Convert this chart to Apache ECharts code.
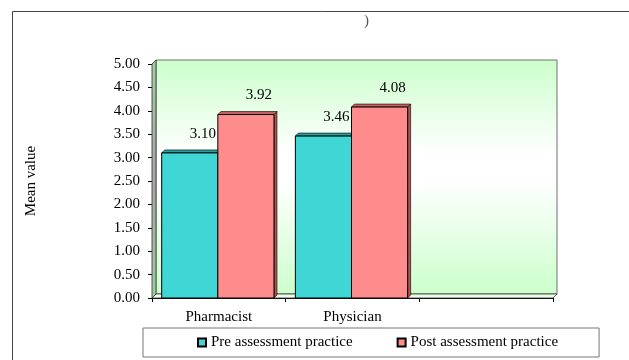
<!DOCTYPE html>
<html>
<head>
<meta charset="utf-8">
<script src="https://cdn.jsdelivr.net/npm/echarts@6/dist/echarts.min.js"></script>
<style>
  html, body { margin: 0; padding: 0; background: #fff; }
  #chart { width: 629px; height: 360px; }
</style>
</head>
<body>
<div id="chart"></div>
<script>
// Chart data
const categories = ['Pharmacist', 'Physician', ''];
const seriesNames = ['Pre assessment practice', 'Post assessment practice'];
const preValues = [3.10, 3.46];
const postValues = [3.92, 4.08];
const yMin = 0, yMax = 5, yStep = 0.5;

const FONT = 'Liberation Serif';
const DEPTH = 3;       // bar extrusion in px
const WALL_DEPTH = 4;  // wall offset in px

const palette = {
  pre:  { front: '#40d6d6', top: '#2a9e9e', side: '#2c8f8f' },
  post: { front: '#ff8c8c', top: '#c86060', side: '#b25252' }
};

// Draws one extruded bar (front face, top face, right side) plus its value label
function makeBarRenderer(side, col) {
  return function (params, api) {
    const idx = api.value(0);
    const v = api.value(1);
    const base = api.coord([idx, 0]);
    const top = api.coord([idx, v]);
    const band = api.size([1, 0])[0];
    const w = band * 0.42;
    const cx = base[0] - 1;
    const x0 = side === 0 ? cx - w : cx;
    const x1 = x0 + w;
    const y0 = top[1], y1 = base[1];
    const d = DEPTH;
    return {
      type: 'group',
      children: [
        { type: 'polygon', shape: { points: [[x1, y1], [x1, y0], [x1 + d, y0 - d], [x1 + d, y1 - d]] },
          style: { fill: col.side, stroke: '#000', lineWidth: 0.6 } },
        { type: 'polygon', shape: { points: [[x0, y0], [x0 + d, y0 - d], [x1 + d, y0 - d], [x1, y0]] },
          style: { fill: col.top, stroke: '#000', lineWidth: 0.6 } },
        { type: 'rect', shape: { x: x0, y: y0, width: w, height: y1 - y0 },
          style: { fill: col.front, stroke: '#000', lineWidth: 1 } },
        { type: 'text', x: (x0 + x1) / 2 + 13, y: y0 - 19,
          style: { text: v.toFixed(2), fill: '#000', font: '15px "' + FONT + '"',
                   textAlign: 'center', textVerticalAlign: 'middle' } }
      ]
    };
  };
}

// Back wall, left side wall and floor of the plotting box
function renderWalls(params, api) {
  const cs = params.coordSys;
  const x = cs.x, y = cs.y, w = cs.width, h = cs.height, d = WALL_DEPTH;
  const wallGrad = new echarts.graphic.LinearGradient(0, 0, 0, 1, [
    { offset: 0, color: '#ccffcc' },
    { offset: 0.4, color: '#ffffff' },
    { offset: 0.52, color: '#ffffff' },
    { offset: 1, color: '#ccffcc' }
  ]);
  const sideGrad = new echarts.graphic.LinearGradient(0, 0, 0, 1, [
    { offset: 0, color: '#9fcf9f' },
    { offset: 0.45, color: '#a8a8a8' },
    { offset: 0.55, color: '#a8a8a8' },
    { offset: 1, color: '#9fcf9f' }
  ]);
  return {
    type: 'group',
    silent: true,
    children: [
      { type: 'rect', shape: { x: x + d, y: y - d, width: w, height: h },
        style: { fill: wallGrad, stroke: '#6e6e6e', lineWidth: 1 } },
      { type: 'polygon', shape: { points: [[x, y + h], [x, y], [x + d, y - d], [x + d, y + h - d]] },
        style: { fill: sideGrad, stroke: '#333', lineWidth: 0.8 } },
      { type: 'polygon', shape: { points: [[x, y + h], [x + d, y + h - d], [x + w + d, y + h - d], [x + w, y + h]] },
        style: { fill: '#eefcee', stroke: '#333', lineWidth: 0.8 } }
    ]
  };
}

const chart = echarts.init(document.getElementById('chart'), null, { renderer: 'canvas' });

chart.setOption({
  animation: false,
  textStyle: { fontFamily: FONT },
  graphic: [
    { type: 'rect', left: 10, top: 9, shape: { width: 700, height: 400 },
      style: { fill: 'none', stroke: '#444', lineWidth: 1 }, z: 0 },
    { type: 'text', left: 364, top: 14,
      style: { text: ')', fill: '#555', font: '15px "' + FONT + '"' } }
  ],
  grid: { left: 152, right: 76, top: 64, bottom: 62 },
  legend: {
    left: 143, top: 328,
    padding: [7, 41, 7, 54],
    itemGap: 44,
    itemWidth: 8, itemHeight: 8,
    icon: 'rect',
    borderColor: '#777', borderWidth: 1,
    textStyle: { fontFamily: FONT, fontSize: 15, color: '#000' },
    data: seriesNames
  },
  xAxis: {
    type: 'category',
    data: categories,
    axisLine: { show: true, lineStyle: { color: '#000', width: 1 } },
    axisTick: { show: true, length: 4, lineStyle: { color: '#000' } },
    axisLabel: { color: '#000', fontSize: 15, fontFamily: FONT, margin: 12 },
    splitLine: { show: false }
  },
  yAxis: {
    type: 'value',
    min: yMin, max: yMax, interval: yStep,
    name: 'Mean value',
    nameLocation: 'middle',
    nameRotate: 90,
    nameGap: 113,
    nameTextStyle: { color: '#000', fontSize: 15, fontFamily: FONT },
    axisLine: { show: true, lineStyle: { color: '#000', width: 1 } },
    axisTick: { show: true, length: 4, lineStyle: { color: '#000' } },
    axisLabel: { color: '#000', fontSize: 15, fontFamily: FONT, margin: 12,
                 formatter: v => v.toFixed(2) },
    splitLine: { show: false }
  },
  series: [
    {
      type: 'custom', name: 'walls', z: 1, silent: true,
      renderItem: renderWalls,
      data: [[0, 0]],
      encode: { x: 0, y: 1 }
    },
    {
      type: 'custom', name: seriesNames[0], z: 3,
      itemStyle: { color: palette.pre.front, borderColor: '#000', borderWidth: 1 },
      renderItem: makeBarRenderer(0, palette.pre),
      data: preValues.map((v, i) => [i, v]),
      encode: { x: 0, y: 1 }
    },
    {
      type: 'custom', name: seriesNames[1], z: 3,
      itemStyle: { color: palette.post.front, borderColor: '#000', borderWidth: 1 },
      renderItem: makeBarRenderer(1, palette.post),
      data: postValues.map((v, i) => [i, v]),
      encode: { x: 0, y: 1 }
    }
  ]
});
</script>
</body>
</html>
